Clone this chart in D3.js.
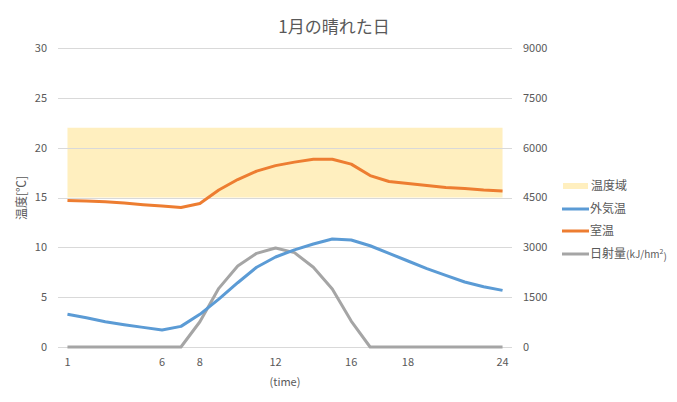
<!DOCTYPE html>
<html><head><meta charset="utf-8">
<script src="https://cdn.jsdelivr.net/npm/d3@7"></script>
<style>
body{margin:0;background:#fff;}
svg{display:block;font-family:"Noto Sans CJK JP","Noto Sans",sans-serif;}
</style></head>
<body><svg id="c" width="677" height="402"></svg>
<script>
const hours = [1,2,3,4,5,6,7,8,9,10,11,12,13,14,15,16,17,18,19,20,21,22,23,24];
const tickLabels = ["1","","","","","6","","8","","","","12","","","","16","","","18","","","","","24"];
const outsideTemp = [3.28,2.94,2.54,2.24,1.97,1.70,2.07,3.28,4.80,6.45,8.00,9.03,9.75,10.33,10.83,10.73,10.16,9.40,8.63,7.86,7.19,6.52,6.05,5.68];
const roomTemp = [14.71,14.64,14.57,14.44,14.27,14.14,14.00,14.40,15.75,16.80,17.65,18.20,18.55,18.83,18.83,18.35,17.20,16.60,16.40,16.20,16.00,15.90,15.75,15.65];
const solar = [0,0,0,0,0,0,0,760,1765,2437,2819,2979,2840,2400,1746,782,0,0,0,0,0,0,0,0];
const rangeLow = [15,15,15,15,15,15,15,15,15,15,15,15,15,15,15,15,15,15,15,15,15,15,15,15];
const rangeHigh = [22,22,22,22,22,22,22,22,22,22,22,22,22,22,22,22,22,22,22,22,22,22,22,22];
const leftTicks = [0,5,10,15,20,25,30];
const rightTicks = [0,1500,3000,4500,6000,7500,9000];
const title = "1月の晴れた日";
const yTitle = "温度[℃]";
const xTitle = "(time)";

const svg = d3.select("#c");
const L = 58, R = 512, T = 48, B = 347;
const txt = "#595959";
const x = d3.scalePoint().domain(d3.range(hours.length)).range([L, R]).padding(0.5);
const yL = d3.scaleLinear().domain([0,30]).range([B, T]);
const yR = d3.scaleLinear().domain([0,9000]).range([B, T]);

// band
const area = d3.area().x((d,i)=>x(i)).y0((d,i)=>yL(rangeLow[i])).y1((d,i)=>yL(rangeHigh[i]));
svg.append("path").datum(hours).attr("d", area).attr("fill","#ffc000").attr("fill-opacity",0.25);

// gridlines
svg.append("g").selectAll("line").data(leftTicks).join("line")
  .attr("x1",L).attr("x2",R).attr("y1",d=>Math.round(yL(d))+0.5).attr("y2",d=>Math.round(yL(d))+0.5)
  .attr("stroke","#d9d9d9").attr("stroke-width",1);

// left axis labels
svg.append("g").selectAll("text").data(leftTicks).join("text")
  .attr("x",47).attr("y",d=>yL(d)).attr("dy","0.35em").attr("text-anchor","end")
  .attr("font-size",11).attr("fill",txt).text(d=>d);
// right axis labels
svg.append("g").selectAll("text").data(rightTicks).join("text")
  .attr("x",523).attr("y",d=>yR(d)).attr("dy","0.35em").attr("text-anchor","start")
  .attr("font-size",11).attr("fill",txt).text(d=>d);
// x labels
svg.append("g").selectAll("text").data(tickLabels).join("text")
  .attr("x",(d,i)=>x(i)).attr("y",362).attr("dy","0.35em").attr("text-anchor","middle")
  .attr("font-size",11).attr("fill",txt).text(d=>d);

// lines
const lineL = arr => d3.line().x((d,i)=>x(i)).y(d=>yL(d))(arr);
const lineR = arr => d3.line().x((d,i)=>x(i)).y(d=>yR(d))(arr);
svg.append("path").attr("d", lineR(solar)).attr("fill","none").attr("stroke","#a5a5a5").attr("stroke-width",3).attr("stroke-linejoin","round");
svg.append("path").attr("d", lineL(outsideTemp)).attr("fill","none").attr("stroke","#5b9bd5").attr("stroke-width",3).attr("stroke-linejoin","round");
svg.append("path").attr("d", lineL(roomTemp)).attr("fill","none").attr("stroke","#ed7d31").attr("stroke-width",3).attr("stroke-linejoin","round");

// titles
svg.append("text").attr("x",334).attr("y",27).attr("dy","0.35em").attr("text-anchor","middle")
  .attr("font-size",17).attr("fill",txt).text(title);
svg.append("text").attr("transform","translate(22,198) rotate(-90)").attr("dy","0.35em").attr("text-anchor","middle")
  .attr("font-size",12).attr("fill",txt).text(yTitle);
svg.append("text").attr("x",285).attr("y",382).attr("dy","0.35em").attr("text-anchor","middle")
  .attr("font-size",11).attr("fill",txt).text(xTitle);

// legend
const lg = svg.append("g");
lg.append("rect").attr("x",563).attr("y",183).attr("width",25).attr("height",6).attr("fill","#ffc000").attr("fill-opacity",0.25);
lg.append("text").attr("x",591).attr("y",186).attr("dy","0.35em").attr("font-size",12).attr("fill",txt).text("温度域");
const items = [["外気温","#5b9bd5",209],["室温","#ed7d31",231],["日射量","#a5a5a5",254]];
items.forEach(([n,c,yy])=>{
  lg.append("line").attr("x1",562).attr("x2",589).attr("y1",yy).attr("y2",yy).attr("stroke",c).attr("stroke-width",3);
  const t = lg.append("text").attr("x",590).attr("y",yy).attr("dy","0.35em").attr("font-size",12).attr("fill",txt).text(n);
  if(n==="日射量"){
    t.append("tspan").attr("font-size",10).text("(kJ/hm");
    t.append("tspan").attr("font-size",7).attr("dy","-0.6em").text("2");
    t.append("tspan").attr("font-size",10).attr("dy","0.6em").text(")");
  }
});
</script></body></html>
